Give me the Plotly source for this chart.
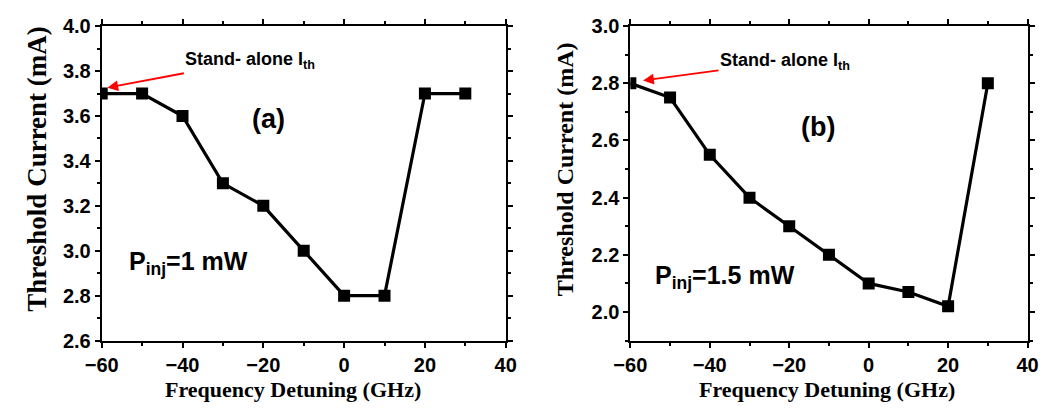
import plotly.graph_objects as go

detuning = [-60, -50, -40, -30, -20, -10, 0, 10, 20, 30]
ith_1mw = [3.7, 3.7, 3.6, 3.3, 3.2, 3.0, 2.8, 2.8, 3.7, 3.7]
ith_15mw = [2.8, 2.75, 2.55, 2.4, 2.3, 2.2, 2.1, 2.07, 2.02, 2.8]

W, H = 1059, 416
def px(x):
    return x / W
def py(y):
    return 1 - y / H

fig = go.Figure()
for vals, xa, ya in [(ith_1mw, "x", "y"), (ith_15mw, "x2", "y2")]:
    fig.add_trace(go.Scatter(
        x=detuning, y=vals, xaxis=xa, yaxis=ya, mode="lines+markers",
        line=dict(color="black", width=3.2),
        marker=dict(symbol="square", size=12, color="black"),
        showlegend=False))

tickfont = dict(family="Liberation Sans", size=20, color="black", weight="bold")
common = dict(showline=True, linewidth=2, linecolor="black", mirror="allticks",
              ticks="outside", ticklen=5, tickwidth=2, tickcolor="black",
              showgrid=False, zeroline=False, tickfont=tickfont)
minor = dict(ticks="outside", ticklen=3, tickwidth=1.5, tickcolor="black", showgrid=False)

fig.update_layout(
    width=W, height=H, margin=dict(l=0, r=0, t=0, b=0, pad=0),
    autosize=False,
    plot_bgcolor="white", paper_bgcolor="white",
    xaxis=dict(domain=[px(87), px(502)], range=[-60, 40], dtick=20, tick0=0,
               minor=dict(dtick=10, **minor), anchor="y", **common),
    yaxis=dict(domain=[py(348), py(16)], range=[2.6, 4.0], dtick=0.2, tick0=0,
               tickformat=".1f", minor=dict(dtick=0.1, **minor), anchor="x", **common),
    xaxis2=dict(domain=[px(630), px(1038)], range=[-60, 40], dtick=20, tick0=0,
                minor=dict(dtick=10, **minor), anchor="y2", **common),
    yaxis2=dict(domain=[py(348), py(16)], range=[1.9, 3.0], dtick=0.2, tick0=0,
                tickformat=".1f", minor=dict(dtick=0.1, **minor), anchor="x2", **common),
)

serif = dict(family="Liberation Serif", size=22, color="black", weight="bold")
sans = dict(family="Liberation Sans", color="black", weight="bold")
ann = []
for cx in (283, 832):
    ann.append(dict(text="Frequency Detuning (GHz)", x=px(cx), y=py(415), xref="paper", yref="paper",
                    showarrow=False, font=serif, xanchor="center", yanchor="bottom"))
for cx, cy, sz in ((21, 166, 27), (563, 167, 24)):
    ann.append(dict(text="Threshold Current (mA)", x=px(cx), y=py(cy), xref="paper", yref="paper",
                    showarrow=False, font=dict(serif, size=sz), textangle=-90,
                    xanchor="center", yanchor="middle"))
ann.append(dict(text="(a)", x=px(258), y=py(114), xref="paper", yref="paper", showarrow=False,
                font=dict(size=27, **sans), xanchor="center", yanchor="middle"))
ann.append(dict(text="(b)", x=px(823), y=py(122), xref="paper", yref="paper", showarrow=False,
                font=dict(size=27, **sans), xanchor="center", yanchor="middle"))
ann.append(dict(text="P<sub>inj</sub>=1 mW", x=px(113), y=py(266), xref="paper", yref="paper",
                showarrow=False, font=dict(size=25, **sans), xanchor="left", yanchor="middle"))
ann.append(dict(text="P<sub>inj</sub>=1.5 mW", x=px(653), y=py(281), xref="paper", yref="paper",
                showarrow=False, font=dict(size=25, **sans), xanchor="left", yanchor="middle"))
# stand-alone labels with arrows pointing to the first data point
ann.append(dict(text="Stand- alone I<sub>th</sub>", x=-58.6, y=3.726, xref="x", yref="y",
                ax=143, ay=-27, showarrow=True, arrowhead=2, arrowsize=1.2, arrowwidth=1.8,
                arrowcolor="red", font=dict(size=18, **sans)))
ann.append(dict(text="Stand- alone I<sub>th</sub>", x=-56.8, y=2.81, xref="x2", yref="y2",
                ax=142, ay=-19, showarrow=True, arrowhead=2, arrowsize=1.2, arrowwidth=1.8,
                arrowcolor="red", font=dict(size=18, **sans)))
fig.update_layout(annotations=ann)

fig.write_html("out.html")
